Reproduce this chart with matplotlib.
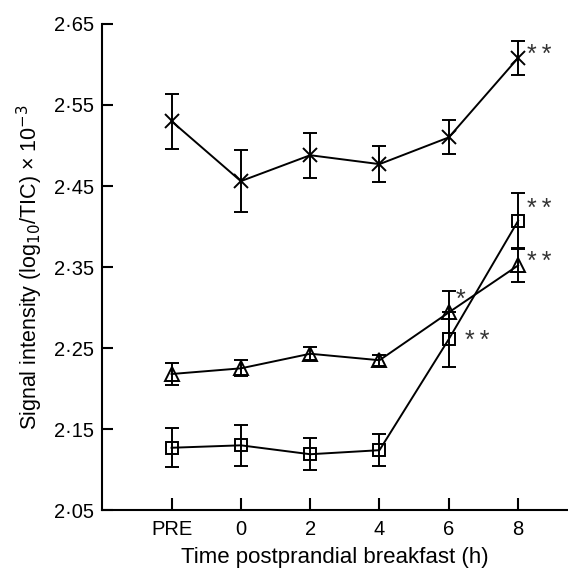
import numpy as np
import matplotlib.pyplot as plt

plt.rcParams["font.family"] = ["Liberation Sans", "DejaVu Sans"]

time_labels = ["PRE", "0", "2", "4", "6", "8"]

cross_mean = [2.530, 2.456, 2.488, 2.477, 2.510, 2.608]
cross_err = [0.034, 0.038, 0.028, 0.022, 0.021, 0.021]

square_mean = [2.127, 2.130, 2.119, 2.124, 2.261, 2.407]
square_err = [0.024, 0.025, 0.020, 0.020, 0.034, 0.034]

triangle_mean = [2.218, 2.225, 2.243, 2.235, 2.294, 2.352]
triangle_err = [0.013, 0.010, 0.008, 0.007, 0.026, 0.020]

# significance marks: (series, time index, label)
sig_marks = [
    ("cross", 5, "*\u2009*"),
    ("square", 5, "*\u2009*"),
    ("triangle", 5, "*\u2009*"),
    ("triangle", 4, "*"),
    ("square", 4, "*\u2009*"),
]

y_ticks = [2.05, 2.15, 2.25, 2.35, 2.45, 2.55, 2.65]

fig = plt.figure(figsize=(5.68, 5.70), dpi=100)
ax = fig.add_axes([0.18, 0.105, 0.82, 0.853])

x = np.arange(len(time_labels))
common = dict(color="black", lw=1.4, capsize=5, capthick=1.4, elinewidth=1.4)

ax.errorbar(x, cross_mean, yerr=cross_err, marker="x", ms=10, mew=1.4, **common)
ax.errorbar(x, triangle_mean, yerr=triangle_err, marker="^", ms=10, mew=1.4,
            mfc="none", **common)
ax.errorbar(x, square_mean, yerr=square_err, marker="s", ms=9, mew=1.4,
            mfc="none", **common)

series = {"cross": cross_mean, "square": square_mean, "triangle": triangle_mean}
offsets = {("cross", 5): (0.13, 0.004), ("square", 5): (0.13, 0.015),
           ("triangle", 5): (0.13, 0.004), ("triangle", 4): (0.10, 0.016),
           ("square", 4): (0.23, -0.002)}
for name, i, lab in sig_marks:
    vals = series[name]
    dx, dy = offsets[(name, i)]
    ax.text(x[i] + dx, vals[i] + dy, lab, fontsize=18, color="#333333",
            ha="left", va="center")

ax.set_xlim(-1, 5.72)
ax.set_ylim(2.05, 2.65)
ax.set_xticks(x)
ax.set_xticklabels(time_labels)
ax.set_yticks(y_ticks)
ax.set_yticklabels([f"{v:.2f}".replace(".", "\u00b7") for v in y_ticks])

ax.spines["top"].set_visible(False)
ax.spines["right"].set_visible(False)
ax.spines["left"].set_linewidth(1.5)
ax.spines["bottom"].set_linewidth(1.5)
ax.tick_params(axis="x", direction="in", length=9, width=1.5, labelsize=14.5, pad=7)
ax.tick_params(axis="y", direction="in", length=8, width=1.5, labelsize=14.5, pad=6)

ax.set_xlabel("Time postprandial breakfast (h)", fontsize=16, labelpad=6)
ax.set_ylabel("Signal intensity (log$_{10}$/TIC) \u00d7 10$^{-3}$", fontsize=15.5,
              labelpad=6)

fig.savefig("out.png", dpi=100)
